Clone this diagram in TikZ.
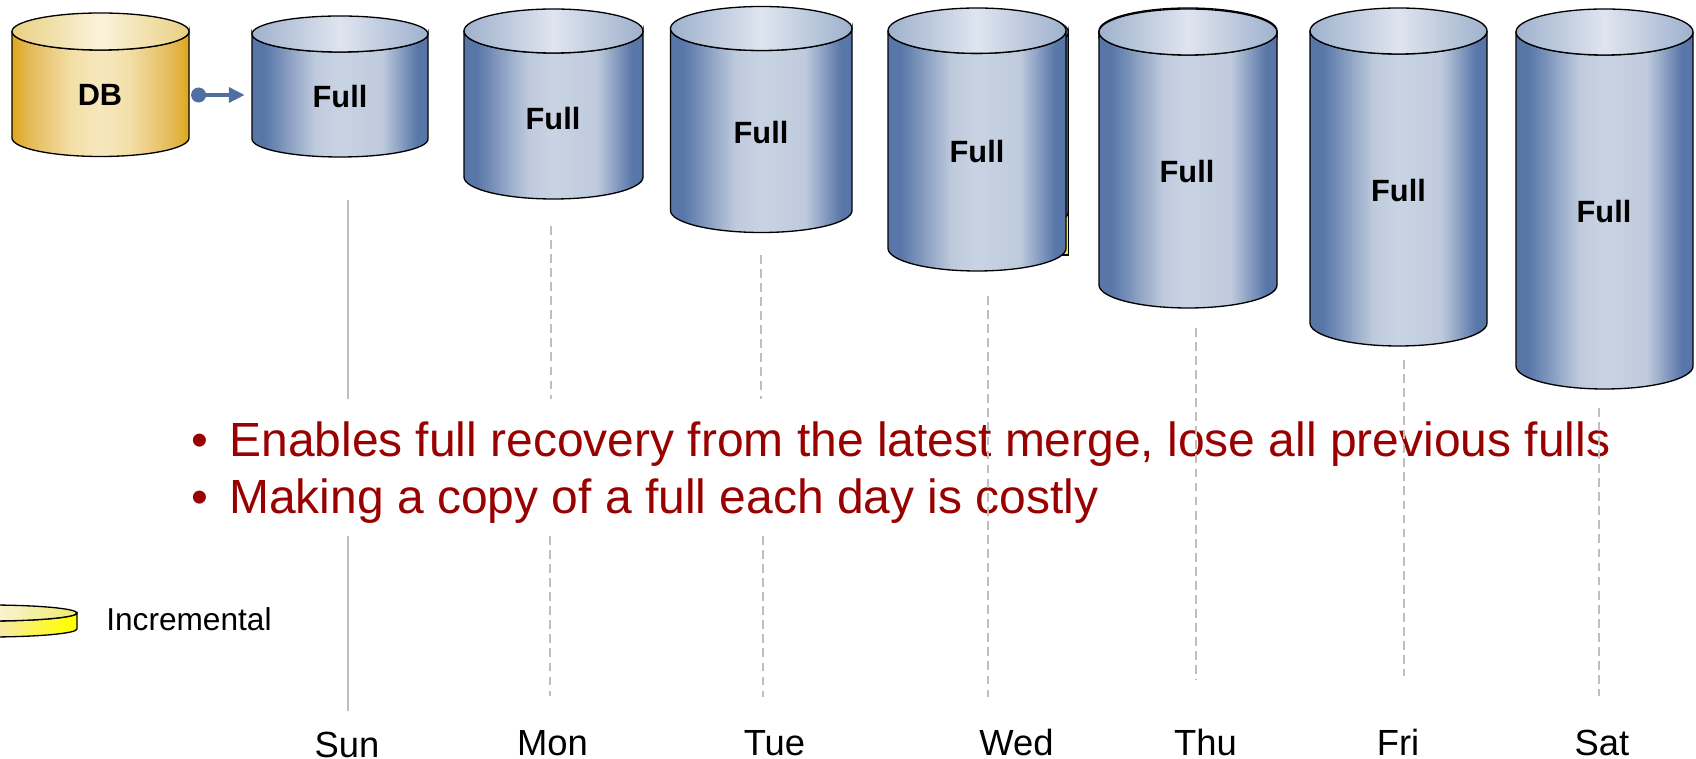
\documentclass[tikz,border=0pt]{standalone}
\usepackage{fontspec}
\setmainfont{Liberation Sans}
\usetikzlibrary{arrows.meta}
\definecolor{tapeblue}{HTML}{5876A8}
\definecolor{tapemid}{HTML}{C8D3E3}
\definecolor{tapeside}{HTML}{BFCBDD}
\definecolor{lidedge}{HTML}{9EB1CD}
\definecolor{lidmid}{HTML}{DFE5EF}
\definecolor{goldedge}{HTML}{E0A920}
\definecolor{goldsoft}{HTML}{E4BA58}
\definecolor{goldside}{HTML}{F3DFA8}
\definecolor{goldmid}{HTML}{F6E8BE}
\definecolor{goldlid}{HTML}{E9D081}
\definecolor{goldtop}{HTML}{FBF3DC}
\definecolor{inccream}{HTML}{F5E6C0}
\definecolor{inclight}{HTML}{FAF3DE}
\definecolor{inclidyellow}{HTML}{F0EB6E}
\definecolor{feedblue}{HTML}{4F6FA3}
\definecolor{alertred}{HTML}{990000}
\definecolor{guide}{HTML}{BFBFBF}
\pgfdeclarehorizontalshading{fullbody}{100bp}{color(0bp)=(tapeblue); color(28.5bp)=(tapeblue); color(43bp)=(tapeside); color(50bp)=(tapemid); color(62bp)=(tapeside); color(72bp)=(tapeblue); color(100bp)=(tapeblue)}
\pgfdeclarehorizontalshading{fulllid}{100bp}{color(0bp)=(lidedge); color(25bp)=(lidedge); color(50bp)=(lidmid); color(75bp)=(lidedge); color(100bp)=(lidedge)}
\pgfdeclarehorizontalshading{dbbody}{100bp}{color(0bp)=(goldedge); color(25.5bp)=(goldedge); color(30bp)=(goldsoft); color(42bp)=(goldside); color(50bp)=(goldmid); color(58bp)=(goldside); color(70bp)=(goldsoft); color(74.5bp)=(goldedge); color(100bp)=(goldedge)}
\pgfdeclarehorizontalshading{dblid}{100bp}{color(0bp)=(goldlid); color(25bp)=(goldlid); color(50bp)=(goldtop); color(75bp)=(goldlid); color(100bp)=(goldlid)}
\pgfdeclarehorizontalshading{incbody}{100bp}{color(0bp)=(inccream); color(50bp)=(inccream); color(73bp)=(yellow); color(100bp)=(yellow)}
\pgfdeclarehorizontalshading{inclid}{100bp}{color(0bp)=(inclight); color(50bp)=(inclight); color(75bp)=(inclidyellow); color(100bp)=(inclidyellow)}
\tikzset{
    canedge/.style = {draw=black, line width=0.75pt},
    cantext/.style = {anchor=base, inner sep=0pt, font=\fontsize{17.5pt}{20pt}\selectfont\bfseries},
    daytext/.style = {anchor=base, inner sep=0pt, font=\fontsize{20.7pt}{24pt}\selectfont},
    alert/.style = {anchor=base west, inner sep=0pt, text=alertred, font=\fontsize{27.3pt}{32pt}\selectfont},
    solidguide/.style = {draw=guide, line width=1.2pt},
    dashguide/.style = {draw=guide, line width=1pt, dash pattern=on 5pt off 3pt},
    feed/.style = {draw=feedblue, line width=1.8pt, {Circle[length=8.5pt]}-{Triangle[length=9pt,width=8.6pt]}}
}
% left, right, top, bottom, lid height, shadings
\newcommand{\tapecan}[7]{%
    \pgfmathsetmacro{\rx}{(#2-#1)/2}
    \pgfmathsetmacro{\cx}{(#1+#2)/2}
    \path[canedge, shading=#6] (#1,#3+#5) -- (#1,#4-#5)
        arc[start angle=180, end angle=0, x radius=\rx, y radius=#5] -- (#2,#3+#5)
        arc[start angle=0, end angle=180, x radius=\rx, y radius=#5] -- cycle;
    \path[canedge, shading=#7] (\cx,#3+#5) ellipse [x radius=\rx, y radius=#5];
}
\begin{document}
\begin{tikzpicture}[x=0.02cm, y=-0.02cm]
    \useasboundingbox (0,0) rectangle (1696,759);
    % bullets first, the guides run over them
    \node[alert] (bullet1) at (191,457) {\textbullet};
    \node[alert] (line1) at (229,457) {Enables full recovery from the latest merge, lose all previous fulls};
    \node[alert] (bullet2) at (191,514) {\textbullet};
    \node[alert] (line2) at (229,514) {Making a copy of a full each day is costly};
    % guides above the text
    \foreach \a/\x/\top/\bot in {mon/551/226/399, tue/761/255/399, wed/988/296/697, thu/1196/328/680, fri/1404/360/676, sat/1599/408/696}{
        \coordinate (\a up) at (\x,\top);
        \coordinate (\a down) at (\x,\bot);
        \draw[dashguide] (\a up) -- (\a down);
    }
    \foreach \a/\x/\bot in {mon/550/696, tue/763/697}{
        \coordinate (\a low) at (\x,536);
        \coordinate (\a end) at (\x,\bot);
        \draw[dashguide] (\a low) -- (\a end);
    }
    \coordinate (sun up) at (348,200);
    \coordinate (sun mid) at (348,399);
    \coordinate (sun low) at (348,536);
    \coordinate (sun end) at (348,711);
    \draw[solidguide] (sun up) -- (sun mid);
    \draw[solidguide] (sun low) -- (sun end);
    % cans behind the wed and thu ones
    \path[canedge, fill=yellow] (1060,212) rectangle (1068.3,255);
    \tapecan{890}{1068.3}{10}{234}{22}{fullbody}{fulllid}
    \tapecan{1099}{1277}{8}{60}{23}{fullbody}{fulllid}
    % the cans
    \tapecan{12}{189}{13}{156.5}{18.5}{dbbody}{dblid}
    \foreach \l/\r/\t/\b/\h in {252/428/16/157/18, 464/643/9/199/22, 670.5/852/6.5/232.5/22, 888/1066/8/271/22.7, 1099/1277/9/308/23, 1310/1487/8/346/23, 1516/1693/9/389/23}{
        \tapecan{\l}{\r}{\t}{\b}{\h}{fullbody}{fulllid}
    }
    \tapecan{-100}{77}{605}{637}{8}{incbody}{inclid}
    % named boxes for the feed arrow
    \node[inner sep=0pt, minimum width=0pt] (dbside) at (189,95) {};
    \node[inner sep=0pt, minimum width=0pt] (sunside) at (252,95) {};
    \draw[feed, shorten <=1pt, shorten >=4pt] (dbside) -- (sunside);
    \node[cantext] (db) at (100,106) {DB};
    \foreach \a/\x/\y in {sun/340/108, mon/553/130, tue/761/144, wed/977/163, thu/1187/183, fri/1398.5/202, sat/1604/223}{
        \node[cantext] (\a) at (\x,\y) {Full};
    }
    \node[anchor=base west, inner sep=0pt, font=\fontsize{18pt}{21pt}\selectfont] (inc) at (106,630) {Incremental};
    \foreach \a/\x/\y/\lab in {sunday/347/757/Sun, monday/552.5/755/Mon, tuesday/774.5/755/Tue, wednesday/1016.5/755/Wed, thursday/1205.5/755/Thu, friday/1398/755/Fri, saturday/1602/755/Sat}{
        \node[daytext] (\a) at (\x,\y) {\lab};
    }
\end{tikzpicture}
\end{document}
